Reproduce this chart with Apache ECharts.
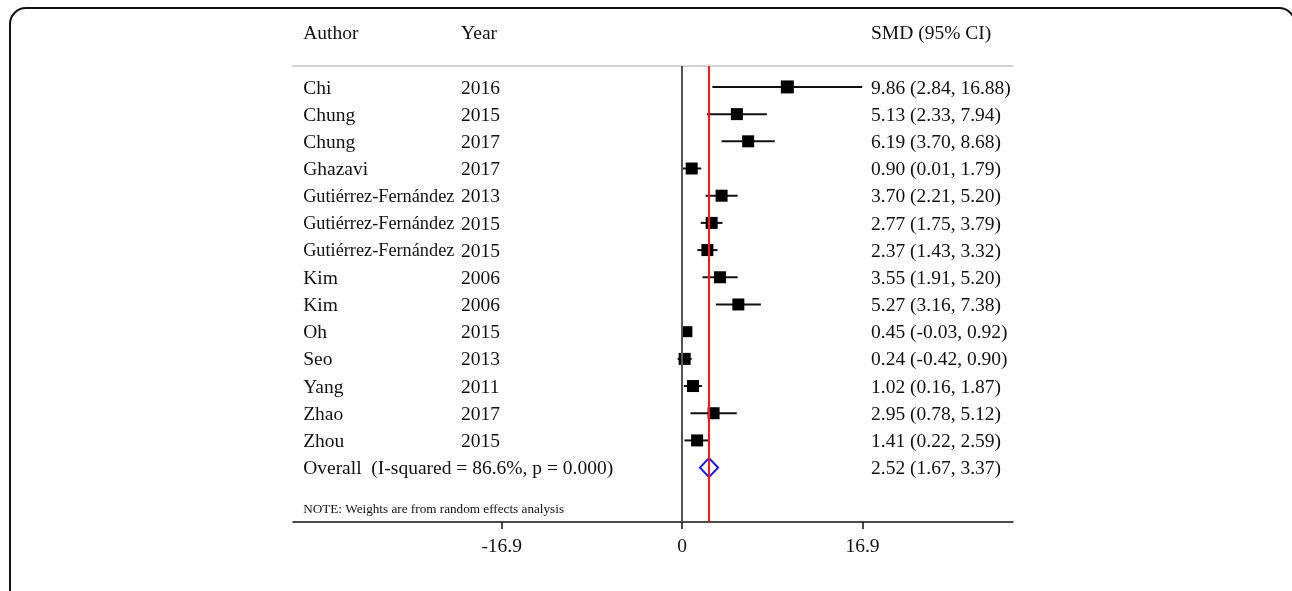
<!DOCTYPE html>
<html><head><meta charset="utf-8">
<script src="https://cdn.jsdelivr.net/npm/echarts@6/dist/echarts.min.js"></script>
<style>html,body{margin:0;padding:0;background:#fff}#c{width:1292px;height:591px}</style>
</head><body><div id="c"></div>
<script>
const authors = ["Chi","Chung","Chung","Ghazavi","Gutiérrez-Fernández","Gutiérrez-Fernández","Gutiérrez-Fernández","Kim","Kim","Oh","Seo","Yang","Zhao","Zhou"];
const years = ["2016","2015","2017","2017","2013","2015","2015","2006","2006","2015","2013","2011","2017","2015"];
const smd = [9.86,5.13,6.19,0.90,3.70,2.77,2.37,3.55,5.27,0.45,0.24,1.02,2.95,1.41];
const ciLow = [2.84,2.33,3.70,0.01,2.21,1.75,1.43,1.91,3.16,-0.03,-0.42,0.16,0.78,0.22];
const ciHigh = [16.88,7.94,8.68,1.79,5.20,3.79,3.32,5.20,7.38,0.92,0.90,1.87,5.12,2.59];
const weights = [13,12,12,12,12,12,12,12,12,11,12,12,12,12];
const overall = {label:"Overall  (I-squared = 86.6%, p = 0.000)", est:2.52, lo:1.67, hi:3.37};
const tickValues = [-16.9, 0, 16.9];
const headers = ["Author","Year","SMD (95% CI)"];
const note = "NOTE: Weights are from random effects analysis";

const FONT = '"Liberation Serif", "DejaVu Serif", serif';
const xMin = -36.45, xMax = 31.0;
const authorX = -35.5, yearX = -20.7, smdX = 17.7;
const fmt = v => v.toFixed(2);
const smdText = smd.map((v,i)=>fmt(v)+" ("+fmt(ciLow[i])+", "+fmt(ciHigh[i])+")");

const rows = smd.map((v,i)=>[v, i, ciLow[i], ciHigh[i], weights[i]]);
const textRows = [];
authors.forEach((a,i)=>{
  textRows.push([authorX, i, a, a.length>12 ? 18.3 : 19.5]);
  textRows.push([yearX, i, years[i], 19.5]);
  textRows.push([smdX, i, smdText[i], 19.5]);
});
const nr = authors.length;
textRows.push([authorX, nr, overall.label, 19.5]);
textRows.push([smdX, nr, fmt(overall.est)+" ("+fmt(overall.lo)+", "+fmt(overall.hi)+")", 19.5]);
textRows.push([authorX, nr+1.5, note, 13.2]);
textRows.push([authorX, -2, headers[0], 19.5]);
textRows.push([yearX, -2, headers[1], 19.5]);
textRows.push([smdX, -2, headers[2], 19.5]);

const chart = echarts.init(document.getElementById('c'));
chart.setOption({
  animation:false,
  graphic:[{type:'rect', shape:{x:10,y:8,width:1285,height:640,r:16}, style:{fill:'none',stroke:'#111',lineWidth:2}, z:-1}],
  grid:{left:293, right:279, top:66, bottom:69},
  xAxis:[{type:'value', min:xMin, max:xMax, position:'bottom',
    splitLine:{show:false},
    axisLine:{show:true, onZero:false, lineStyle:{color:'#111', width:1.5}},
    axisTick:{show:true, customValues:tickValues, length:7, lineStyle:{color:'#111', width:1.5}},
    axisLabel:{show:true, customValues:tickValues, formatter:v=>String(v), color:'#111', fontFamily:FONT, fontSize:19.5, margin:15}
  },{type:'value', min:xMin, max:xMax, position:'top',
    splitLine:{show:false}, axisTick:{show:false}, axisLabel:{show:false},
    axisLine:{show:true, onZero:false, lineStyle:{color:'#d4d4d4', width:2}}
  }],
  yAxis:{type:'value', inverse:true, min:-0.77, max:nr+2, show:false, splitLine:{show:false}},
  series:[
    {type:'custom', clip:false, data:rows, z:3,
     renderItem:(p,api)=>{
       const y = api.value(1);
       const a = api.coord([api.value(2), y]);
       const b = api.coord([api.value(3), y]);
       const c = api.coord([api.value(0), y]);
       const s = api.value(4);
       return {type:'group', children:[
         {type:'line', shape:{x1:a[0],y1:a[1],x2:b[0],y2:b[1]}, style:{stroke:'#111', lineWidth:2}},
         {type:'rect', shape:{x:c[0]-s/2,y:c[1]-s/2,width:s,height:s}, style:{fill:'#000'}}
       ]};
     },
     markLine:{symbol:'none', silent:true, label:{show:false},
       data:[{xAxis:0, lineStyle:{color:'#555', width:2, type:'solid'}},
             {xAxis:overall.est, lineStyle:{color:'#ff1a1a', width:2, type:'solid'}}]}
    },
    {type:'custom', clip:false, z:4, data:[[overall.est, nr, overall.lo, overall.hi]],
     renderItem:(p,api)=>{
       const y = api.value(1);
       const l = api.coord([api.value(2), y]);
       const r = api.coord([api.value(3), y]);
       const c = api.coord([api.value(0), y]);
       const h = 9.5;
       return {type:'polygon', shape:{points:[[l[0],c[1]],[c[0],c[1]-h],[r[0],c[1]],[c[0],c[1]+h]]},
               style:{fill:'#fff', stroke:'#1010ff', lineWidth:2}};
     }},
    {type:'custom', clip:false, z:5, data:textRows,
     renderItem:(p,api)=>{
       const pt = api.coord([api.value(0), api.value(1)]);
       return {type:'text', x:pt[0], y:pt[1]+1.5,
         style:{text:textRows[p.dataIndex][2], fill:'#111', font:textRows[p.dataIndex][3]+'px '+FONT, textAlign:'left', textVerticalAlign:'middle'}};
     }}
  ]
});
</script></body></html>
